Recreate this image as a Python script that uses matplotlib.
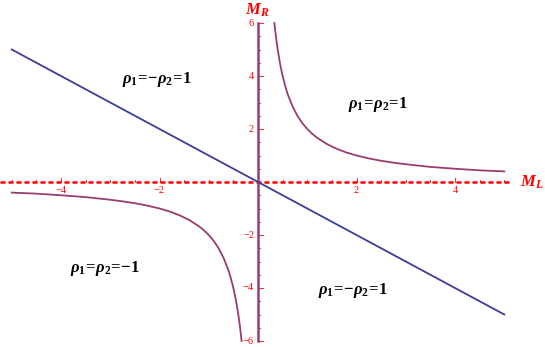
import matplotlib
matplotlib.use("Agg")
import matplotlib.pyplot as plt

plt.rcParams["mathtext.fontset"] = "custom"
plt.rcParams["mathtext.it"] = "Liberation Serif:italic:bold"
plt.rcParams["mathtext.rm"] = "Liberation Serif:bold"
plt.rcParams["mathtext.bf"] = "Liberation Serif:bold"

# Data
line_x = [-5.0, 5.0]
line_y = [5.0, -5.0]

branch_pos_x = [0.333, 0.35, 0.375, 0.4, 0.45, 0.5, 0.55, 0.6, 0.7, 0.8, 0.9, 1.0, 1.1, 1.2,
                1.4, 1.6, 1.8, 2.0, 2.25, 2.5, 2.75, 3.0, 3.5, 4.0, 4.5, 5.0]
branch_pos_y = [6.0, 5.71, 5.33, 5.0, 4.44, 4.0, 3.64, 3.33, 2.86, 2.5, 2.22, 2.0, 1.82, 1.67,
                1.43, 1.25, 1.11, 1.0, 0.89, 0.8, 0.73, 0.67, 0.57, 0.5, 0.44, 0.4]
branch_neg_x = [-v for v in branch_pos_x]
branch_neg_y = [-v for v in branch_pos_y]

xticks_major = [-4, -2, 2, 4]
yticks_major = [-6, -4, -2, 2, 4, 6]
region_labels = [r"$\rho_1\!=\!{-}\rho_2\!=\!1$", r"$\rho_1\!=\!\rho_2\!=\!1$",
                 r"$\rho_1\!=\!\rho_2\!=\!{-}1$", r"$\rho_1\!=\!{-}\rho_2\!=\!1$"]

BLUE = (0.24, 0.24, 0.6)
PURPLE = (0.6, 0.24, 0.443)
RED = "#ff0000"
SERIF = ["Liberation Serif", "DejaVu Serif"]

fig = plt.figure(figsize=(5.45, 3.47), dpi=100)
ax = fig.add_axes([0, 0, 1, 1])
ax.set_xlim(-258 / 49.25, (545 - 258) / 49.25)
ax.set_ylim(-(347 - 182) / 26.5, 182 / 26.5)
ax.axis("off")

# x axis (red dotted)
ax.plot([ax.get_xlim()[0], 5.12], [0, 0], color=RED, lw=1.8, linestyle=(0, (2.0, 1.2)), zorder=2)
xs = [k * 0.5 for k in range(-10, 11) if k != 0]
for xv in xs:
    h = 0.14 if xv in xticks_major else 0.07
    ax.plot([xv, xv], [0, h], color=RED, lw=0.6, zorder=2)
for xv in xticks_major:
    ax.text(xv, -0.33, f"{xv}".replace("-", "−"), color=RED, fontsize=7.5, family=SERIF,
            ha="center", va="center")

# y axis (purple)
ax.plot([0, 0], [-6, 6], color=PURPLE, lw=1.8, zorder=3)
ys = [k * 0.5 for k in range(-12, 13) if k != 0]
for yv in ys:
    w = 0.1 if yv in yticks_major else 0.05
    ax.plot([0, w], [yv, yv], color=RED, lw=0.6, zorder=2)
for yv in yticks_major:
    ax.text(-0.08, yv, f"{yv}".replace("-", "−"), color=RED, fontsize=7.5, family=SERIF,
            ha="right", va="center")

# curves
ax.plot(line_x, line_y, color=BLUE, lw=1.3, zorder=4)
ax.plot(branch_pos_x, branch_pos_y, color=PURPLE, lw=1.3, zorder=4)
ax.plot(branch_neg_x, branch_neg_y, color=PURPLE, lw=1.3, zorder=4)

# axis labels
ax.text(-0.02, 6.5, r"$M_R$", color=RED, fontsize=12, ha="center", va="center")
ax.text(5.56, 0.0, r"$M_L$", color=RED, fontsize=12, ha="center", va="center")

# region labels
pos = [(-2.05, 3.85), (2.43, 2.94), (-3.11, -3.28), (1.93, -4.08)]
for (px, py), s in zip(pos, region_labels):
    ax.text(px, py, s, fontsize=12, ha="center", va="center")

fig.savefig("out.png", dpi=100)
